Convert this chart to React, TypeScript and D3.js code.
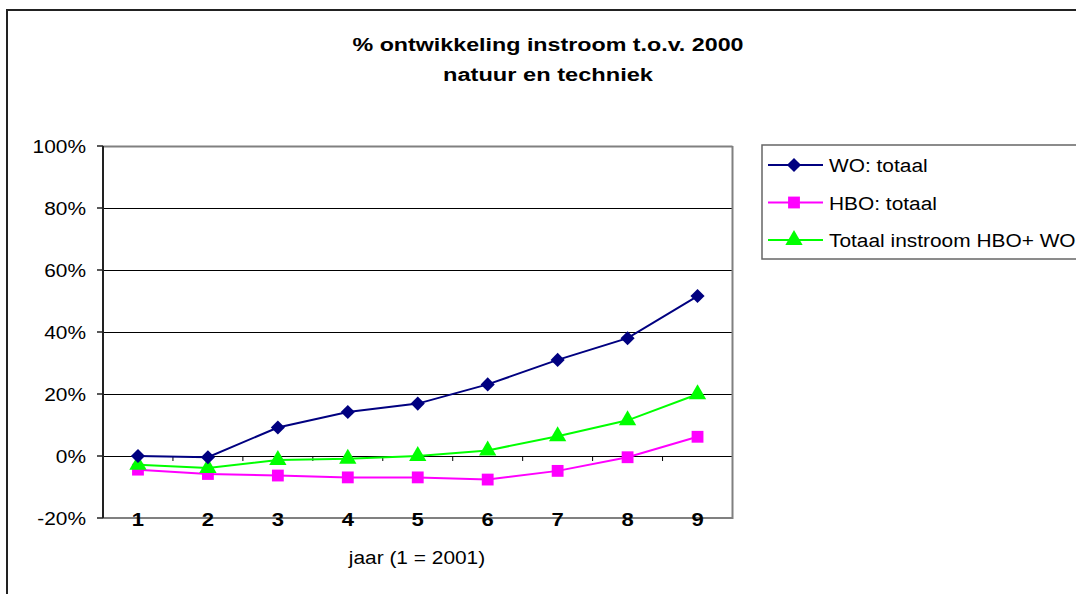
import { useEffect, useRef } from "react";
import * as d3 from "d3";

const years = ["1", "2", "3", "4", "5", "6", "7", "8", "9"];
const woTotaal = [0, -0.4, 9.2, 14.2, 16.9, 23.1, 31, 38, 51.6];
const hboTotaal = [-4.4, -5.8, -6.3, -6.9, -6.9, -7.6, -4.8, -0.4, 6.2];
const totaalInstroom = [-2.8, -3.9, -1.3, -0.9, 0, 1.8, 6.4, 11.5, 19.9];
const yTicks = [-20, 0, 20, 40, 60, 80, 100];
const seriesNames = ["WO: totaal", "HBO: totaal", "Totaal instroom HBO+ WO"];
const titleLines = ["% ontwikkeling instroom t.o.v. 2000", "natuur en techniek"];

const font = "'Liberation Sans', Arial, sans-serif";
const stretch = 1.16; // the source renders its Arial a bit wider

function widen(sel: d3.Selection<SVGTextElement, any, any, any>, factor: number) {
    sel.each(function () {
        const w = this.getComputedTextLength();
        d3.select(this).attr("textLength", w * factor).attr("lengthAdjust", "spacingAndGlyphs");
    });
}

function App() {
    const svgRef = useRef<SVGSVGElement | null>(null);

    useEffect(() => {
        if (!svgRef.current) return;
        const width = 1076;
        const height = 594;
        const svg = d3.select(svgRef.current).attr("width", width).attr("height", height);
        svg.selectAll("*").remove();

        // outer chart frame
        svg.append("rect")
            .attr("x", 7).attr("y", 10)
            .attr("width", 1200).attr("height", 700)
            .attr("fill", "white").attr("stroke", "#222").attr("stroke-width", 2);

        const titleWidths = [391, 210];
        titleLines.forEach((t, i) => {
            const el = svg.append("text")
                .attr("x", 548).attr("y", 51 + i * 30)
                .attr("text-anchor", "middle")
                .style("font-family", font).style("font-size", "18px").style("font-weight", "bold")
                .text(t);
            el.attr("textLength", titleWidths[i]).attr("lengthAdjust", "spacingAndGlyphs");
        });

        const left = 103, right = 732.5, top = 146, bottom = 518;

        const x = d3.scaleBand<string>().domain(years).range([left, right]);
        const y = d3.scaleLinear().domain([-20, 100]).range([bottom, top]);

        // gridlines
        svg.append("g")
            .selectAll("line")
            .data(yTicks.filter((t) => t > -20))
            .join("line")
            .attr("x1", left).attr("x2", right)
            .attr("y1", (d) => Math.round(y(d)) + 0.5).attr("y2", (d) => Math.round(y(d)) + 0.5)
            .attr("stroke", (d) => (d === 100 ? "#808080" : "#000"))
            .attr("stroke-width", (d) => (d === 100 ? 2 : 1));

        // plot area border (right, bottom)
        svg.append("path")
            .attr("d", `M${right},${top}V${bottom}H${left}`)
            .attr("fill", "none").attr("stroke", "#808080").attr("stroke-width", 2);

        // y axis
        svg.append("line")
            .attr("x1", left).attr("x2", left).attr("y1", top).attr("y2", bottom)
            .attr("stroke", "#222").attr("stroke-width", 2);
        svg.append("g")
            .selectAll("line")
            .data(yTicks)
            .join("line")
            .attr("x1", left - 6).attr("x2", left)
            .attr("y1", (d) => y(d)).attr("y2", (d) => y(d))
            .attr("stroke", "#222").attr("stroke-width", 1.5);
        const yLabels = svg.append("g")
            .selectAll("text")
            .data(yTicks)
            .join("text")
            .attr("x", 86).attr("y", (d) => y(d) + 6.5)
            .attr("text-anchor", "end")
            .style("font-family", font).style("font-size", "18px")
            .text((d) => `${d}%`);
        widen(yLabels as any, stretch);

        // category ticks on 0 line
        svg.append("g")
            .selectAll("line")
            .data(years.slice(1))
            .join("line")
            .attr("x1", (d) => x(d)!).attr("x2", (d) => x(d)!)
            .attr("y1", y(0)).attr("y2", y(0) + 5)
            .attr("stroke", "#000").attr("stroke-width", 1);

        const xLabels = svg.append("g")
            .selectAll("text")
            .data(years)
            .join("text")
            .attr("x", (d) => x(d)! + x.bandwidth() / 2)
            .attr("y", 526)
            .attr("text-anchor", "middle")
            .style("font-family", font).style("font-size", "19px").style("font-weight", "bold")
            .text((d) => d);
        widen(xLabels as any, stretch);

        const xTitle = svg.append("text")
            .attr("x", 417).attr("y", 564)
            .attr("text-anchor", "middle")
            .style("font-family", font).style("font-size", "18px")
            .text("jaar (1 = 2001)");
        widen(xTitle as any, stretch);

        const cx = (i: number) => x(years[i])! + x.bandwidth() / 2;
        const line = d3.line<number>().x((_, i) => cx(i)).y((d) => y(d));

        const series = [
            { name: seriesNames[0], values: woTotaal, color: "#000080", symbol: d3.symbolSquare, size: 100, rot: 45 },
            { name: seriesNames[1], values: hboTotaal, color: "#FF00FF", symbol: d3.symbolSquare, size: 140, rot: 0 },
            { name: seriesNames[2], values: totaalInstroom, color: "#00FF00", symbol: d3.symbolTriangle, size: 130, rot: 0 },
        ];

        const drawOrder = [1, 2, 0];
        drawOrder.forEach((k) => {
            const s = series[k];
            const g = svg.append("g");
            g.append("path")
                .datum(s.values)
                .attr("d", line)
                .attr("fill", "none")
                .attr("stroke", s.color)
                .attr("stroke-width", 2);
            g.selectAll("path.m")
                .data(s.values)
                .join("path")
                .attr("class", "m")
                .attr("transform", (d, i) => `translate(${cx(i)},${y(d)}) rotate(${s.rot})`)
                .attr("d", d3.symbol().type(s.symbol).size(s.size)()!)
                .attr("fill", s.color);
        });

        // legend
        const lg = svg.append("g");
        lg.append("rect")
            .attr("x", 762).attr("y", 145)
            .attr("width", 400).attr("height", 114)
            .attr("fill", "white").attr("stroke", "#666").attr("stroke-width", 1.5);
        series.forEach((s, i) => {
            const ly = 165 + i * 37.5;
            lg.append("line")
                .attr("x1", 768).attr("x2", 823).attr("y1", ly).attr("y2", ly)
                .attr("stroke", s.color).attr("stroke-width", 2);
            lg.append("path")
                .attr("transform", `translate(794,${ly}) rotate(${s.rot})`)
                .attr("d", d3.symbol().type(s.symbol).size(s.size)()!)
                .attr("fill", s.color);
            const t = lg.append("text")
                .attr("x", 829).attr("y", ly + 7)
                .style("font-family", font).style("font-size", "18px")
                .text(s.name);
            widen(t as any, stretch);
        });
    }, []);

    return (
        <div>
            <svg ref={svgRef} style={{ position: "absolute", left: 0, top: 0 }}></svg>
        </div>
    );
}

export default App;
